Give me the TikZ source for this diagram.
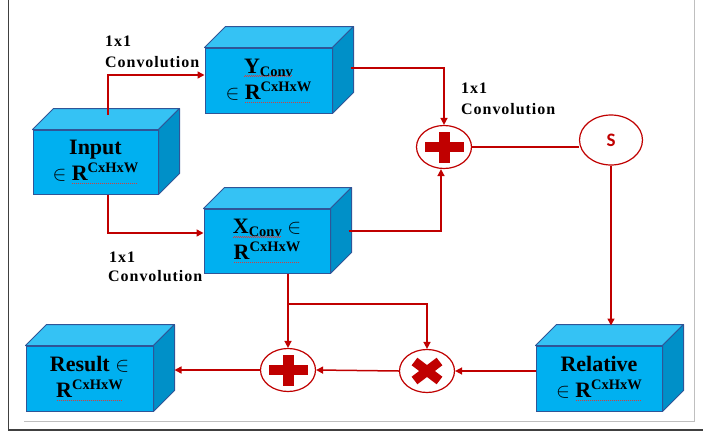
\documentclass[tikz,border=0pt]{standalone}
\usepackage{fontspec}
\setmainfont{Liberation Serif}
\newfontfamily\sansS{Carlito}
\usetikzlibrary{shapes.geometric,arrows.meta,calc}
\definecolor{front}{HTML}{00B0F0}
\definecolor{topc}{HTML}{35C2F4}
\definecolor{sidec}{HTML}{0090C8}
\definecolor{edge}{HTML}{2F5597}
\definecolor{opred}{HTML}{C00000}
\definecolor{spell}{HTML}{D04040}
\definecolor{framegray}{HTML}{BFBFBF}
\definecolor{framedark}{HTML}{404040}
\newcommand\supx[1]{\raisebox{8pt}{\fontsize{14.5}{14.5}\selectfont #1}}
\newcommand\subx[1]{\raisebox{-3pt}{\fontsize{14.5}{14.5}\selectfont #1}}
\newcommand\spelldot[1]{\setbox0=\hbox{#1}\rlap{\textcolor{spell}{\leaders\hbox to 2pt{\hss\rule[-3pt]{1pt}{0.6pt}\hss}\hskip\wd0}}\box0\relax}
\newcommand\spellwave[1]{\setbox0=\hbox{#1}\rlap{\textcolor{spell}{\leaders\hbox to 2pt{\rule[-3.6pt]{1pt}{0.6pt}\rule[-2.8pt]{1pt}{0.6pt}}\hskip\wd0}}\box0\relax}
\newcommand\cuboid[6]{%
  \node[frontface, minimum width=#4pt, minimum height=#5pt] (#1) at (#2,#3) {#6};
  \draw[topface] (#1.north west) -- ++(21,-21) -- ($(#1.north east)+(21,-21)$) -- (#1.north east) -- cycle;
  \draw[sideface] (#1.north east) -- ++(21,-21) -- ($(#1.south east)+(21,-21)$) -- (#1.south east) -- cycle;
}
\newcommand\plusmark[1]{%
  \fill[opred] ($(#1)+(-19.5,-5)$) rectangle ($(#1)+(19.5,5)$);
  \fill[opred] ($(#1)+(-5.5,-15.5)$) rectangle ($(#1)+(5.5,15.5)$);
}
\newcommand\crossmark[1]{%
  \draw[opred, line width=9.5pt] ($(#1)+(-12.5,-9.5)$) -- ($(#1)+(12.5,9.5)$);
  \draw[opred, line width=9.5pt] ($(#1)+(-12.5,9.5)$) -- ($(#1)+(12.5,-9.5)$);
}
\tikzset{
  frontface/.style={draw=edge, fill=front, line width=1pt, inner sep=0pt, align=center,
    font=\bfseries\fontsize{22}{26}\selectfont},
  topface/.style={draw=edge, fill=topc, line width=1pt, line join=round},
  sideface/.style={draw=edge, fill=sidec, line width=1pt, line join=round},
  opnode/.style={ellipse, draw=opred, line width=1.2pt, fill=white, inner sep=0pt,
    minimum width=55pt, minimum height=43pt},
  conn/.style={draw=opred, line width=1.5pt},
  arr/.style={conn, -{Triangle[length=7pt,width=7pt]}},
  lbl/.style={anchor=base west, inner sep=0pt, font=\bfseries\fontsize{16}{18}\selectfont\addfontfeature{LetterSpace=6}}
}
\begin{document}
\begin{tikzpicture}[x=1pt,y=-1pt]
\path[use as bounding box] (0,0) rectangle (703,434);
% frame
\draw[framegray, line width=1pt] (24,421) -- (694,421) -- (694,0);
\draw[framedark, line width=1.5pt] (8.5,0) -- (8.5,430) -- (703,430);
% boxes
\cuboid{in}{95.5}{162}{125}{64}{Input\\$\in$ \spelldot{R\supx{CxHxW}}}
\cuboid{yc}{268.5}{80.5}{127}{65}{\spellwave{Y\subx{Conv}}\\$\in$ \spelldot{R\supx{CxHxW}}}
\cuboid{xc}{267}{241}{126}{64}{\spellwave{X\subx{Conv}} $\in$\\\spelldot{R\supx{CxHxW}}}
\cuboid{res}{89.5}{378.5}{127}{65}{Result $\in$\\\spelldot{R\supx{CxHxW}}}
\cuboid{rel}{599}{378.5}{126}{65}{Relative\\$\in$ \spelldot{R\supx{CxHxW}}}
% operators
\node[opnode] (p1) at (444,147) {};
\plusmark{p1}
\node[opnode] (p2) at (288,370) {};
\plusmark{p2}
\node[opnode] (cr) at (427,371) {};
\crossmark{cr}
\node[opnode, minimum width=63pt, minimum height=50pt, font=\sansS\bfseries\fontsize{19}{19}\selectfont, text=opred] (s) at (611,140) {S};
% labels
\node[lbl] (l1a) at (105,46) {1x1};
\node[lbl] (l1b) at (105,67) {Convolution};
\node[lbl] (l2a) at (461,93) {1x1};
\node[lbl] (l2b) at (461,114) {Convolution};
\node[lbl] (l3a) at (109,262) {1x1};
\node[lbl] (l3b) at (108,281) {Convolution};
% helper coordinates
\coordinate (reltop) at ([yshift=20pt]rel.north);
\coordinate (resside) at ([xshift=21pt]res.east);
\coordinate (br) at (288,304);
% connectors
\draw[arr] ([xshift=12.5pt,yshift=15pt]in.north) |- ([yshift=5.5pt]yc.west);
\draw[arr] ([xshift=12.5pt]in.south) |- ([yshift=8pt]xc.west);
\draw[arr] ([xshift=18pt,yshift=12.5pt]yc.east) -| (p1.north);
\draw[arr] ([xshift=18pt,yshift=10pt]xc.east) -| ([xshift=-3pt]p1.south);
\draw[conn] (p1.east) -- (p1.east -| s.west);
\draw[arr] (s.south) -- (s.south |- reltop);
\draw[arr] ([yshift=7.5pt]rel.west) -- (cr.east);
\draw[arr] (cr.west) -- (p2.east);
\draw[arr] (p2.west) -- (p2.west -| resside);
\draw[arr] (p2.north |- xc.south) -- (p2.north);
\draw[arr] (br) -| (cr.north);
\end{tikzpicture}
\end{document}
